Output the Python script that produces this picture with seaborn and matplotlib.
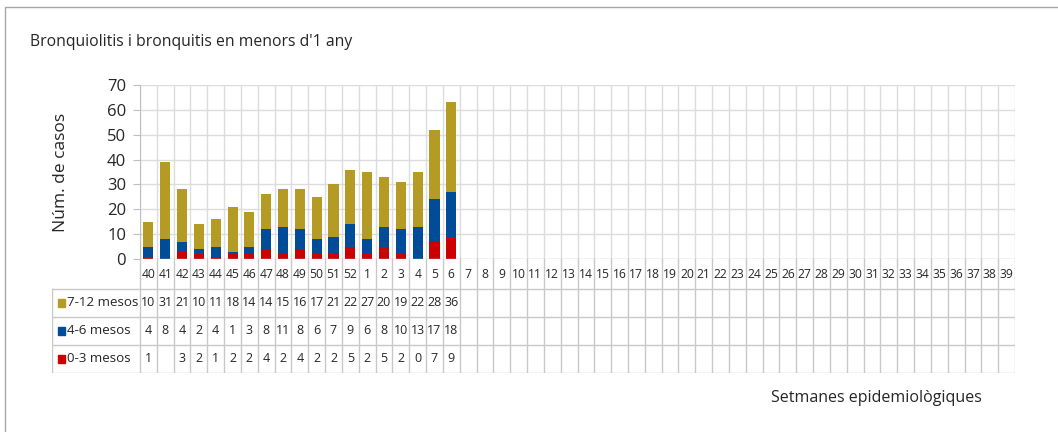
import numpy as np
import pandas as pd
import matplotlib
matplotlib.use("Agg")
import matplotlib.pyplot as plt
import seaborn as sns
from matplotlib.patches import Rectangle

# Setmanes epidemiològiques (40..52, 1..39)
setmanes = [str(s) for s in list(range(40, 53)) + list(range(1, 40))]

# Casos per grup d'edat (només les setmanes amb dades)
mesos_7_12 = [10, 31, 21, 10, 11, 18, 14, 14, 15, 16, 17, 21, 22, 27, 20, 19, 22, 28, 36]
mesos_4_6 = [4, 8, 4, 2, 4, 1, 3, 8, 11, 8, 6, 7, 9, 6, 8, 10, 13, 17, 18]
mesos_0_3 = [1, None, 3, 2, 1, 2, 2, 4, 2, 4, 2, 2, 5, 2, 5, 2, 0, 7, 9]

grups = ["7-12 mesos", "4-6 mesos", "0-3 mesos"]
colors = {"7-12 mesos": "#b59b24", "4-6 mesos": "#004c99", "0-3 mesos": "#cc0000"}

n = len(mesos_7_12)
df = pd.DataFrame({
    "setmana": setmanes[:n],
    "0-3 mesos": [v if v is not None else 0 for v in mesos_0_3],
    "4-6 mesos": mesos_4_6,
    "7-12 mesos": mesos_7_12,
})
df["c2"] = df["0-3 mesos"] + df["4-6 mesos"]
df["c3"] = df["c2"] + df["7-12 mesos"]

plt.rcParams["font.family"] = ["Open Sans", "DejaVu Sans"]
W, H = 1058, 432
fig = plt.figure(figsize=(W / 100, H / 100), dpi=100)

grid_c = "#dcdcdc"
x0, x1 = 140, 1015
ax = fig.add_axes([x0 / W, 1 - 259 / H, (x1 - x0) / W, (259 - 85) / H])

# barres apilades: primer el total, després els grups inferiors
for col, key in [("7-12 mesos", "c3"), ("4-6 mesos", "c2"), ("0-3 mesos", "0-3 mesos")]:
    sns.barplot(data=df, x="setmana", y=key, order=setmanes, color=colors[col],
                width=0.6, saturation=1, ax=ax, zorder=3)

ax.set_xlim(-0.5, len(setmanes) - 0.5)
ax.set_ylim(0, 70)
ax.set_yticks(range(0, 71, 10))
ax.tick_params(axis="y", labelsize=12, length=5, color="#bfbfbf", pad=5, labelcolor="#262626")
ax.tick_params(axis="x", length=0, labelbottom=False)
ax.set_xlabel("")
ax.set_ylabel("Núm. de casos", fontsize=12.5, color="#262626", labelpad=27)
for s in ["top", "right", "bottom"]:
    ax.spines[s].set_visible(False)
ax.spines["left"].set_color("#bfbfbf")
for y in range(10, 71, 10):
    ax.axhline(y, color=grid_c, lw=1, zorder=0)
for i in range(len(setmanes) + 1):
    ax.axvline(i - 0.5, color=grid_c, lw=1, zorder=0)
ax.axhline(0, color="#bfbfbf", lw=1, zorder=4)

# Taula de dades
col_w = (x1 - x0) / len(setmanes)
lab_w = (x0 - 52) / col_w
tax = fig.add_axes([52 / W, 1 - 373 / H, (x1 - 52) / W, (373 - 259) / H])
tax.set_xlim(-0.5 - lab_w, len(setmanes) - 0.5)
tax.set_ylim(114, 0)
tax.axis("off")
line_c = "#c8c8c8"
for i in range(len(setmanes) + 1):
    tax.plot([i - 0.5, i - 0.5], [0, 114], color=line_c, lw=1)
tax.plot([-0.5 - lab_w] * 2, [30, 114], color=line_c, lw=1)
for y in [30, 58, 86, 114]:
    tax.plot([-0.5 - lab_w, len(setmanes) - 0.5], [y, y], color=line_c, lw=1)

tfs = 8.7
for i, s in enumerate(setmanes):
    tax.text(i, 15, s, ha="center", va="center", fontsize=tfs, color="#262626")

files = {"7-12 mesos": mesos_7_12, "4-6 mesos": mesos_4_6, "0-3 mesos": mesos_0_3}
for r, g in enumerate(grups):
    yc = 44 + r * 28
    tax.add_patch(Rectangle((-0.5 - lab_w + 0.35, yc - 4), 0.45, 8, color=colors[g], clip_on=False))
    tax.text(-0.5 - lab_w + 0.88, yc, g, ha="left", va="center", fontsize=9.6, color="#262626")
    for i, v in enumerate(files[g]):
        if v is not None:
            tax.text(i, yc, str(v), ha="center", va="center", fontsize=9, color="#262626")

fig.text(30 / W, 1 - 42 / H, "Bronquiolitis i bronquitis en menors d'1 any",
         fontsize=11.3, color="#262626", va="center", ha="left")
fig.text(876 / W, 1 - 398 / H, "Setmanes epidemiològiques",
         fontsize=11.5, color="#262626", va="center", ha="center")

fig.patches.append(Rectangle((5 / W, -0.1), 1.2, 1 - 7 / H + 0.1, transform=fig.transFigure,
                             fill=False, edgecolor="#a6a6a6", lw=1))

fig.savefig("out.png", dpi=100)
